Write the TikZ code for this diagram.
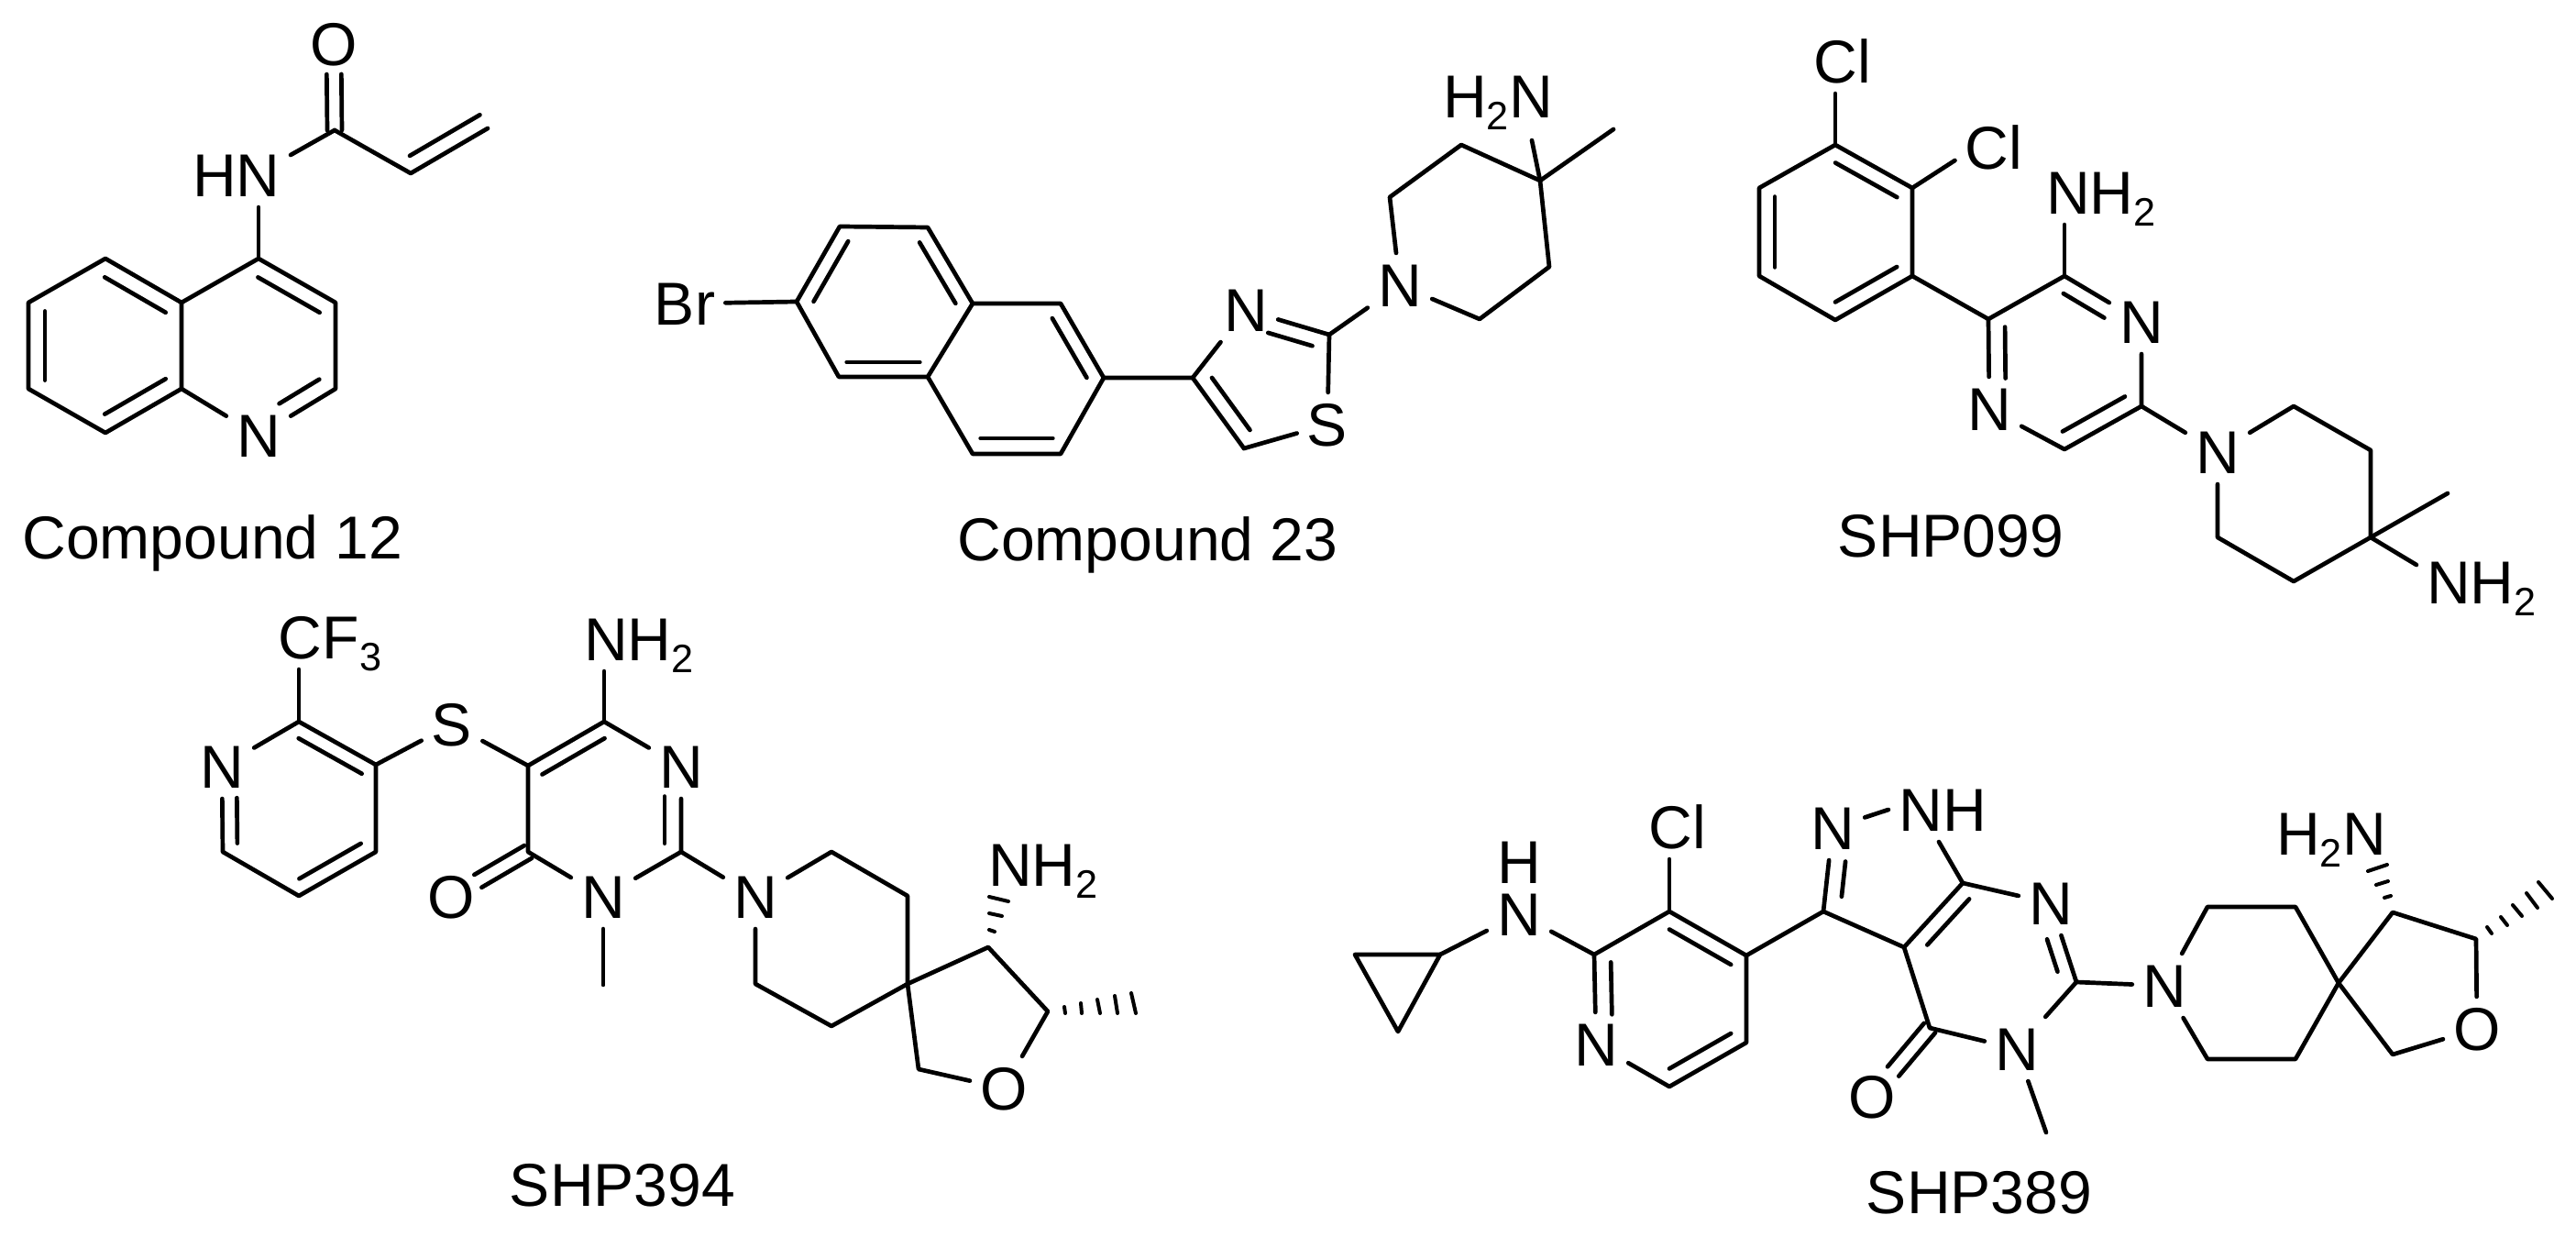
\documentclass[tikz,border=0pt]{standalone}
\usepackage{fontspec}
\setmainfont{Liberation Sans}
\usetikzlibrary{calc}

\newcommand{\subd}[1]{\raisebox{-0.13cm}{\fontsize{12.3}{13}\selectfont #1}}
\newcommand{\innerbond}[5]{\draw ($(#1)!#4!(#2)!#3!90:(#2)$) -- ($(#2)!#5!(#1)!#3!-90:(#1)$);}
\newcommand{\twinbond}[3]{
\draw[shorten >=#3] ($(#1)!0.08cm!90:(#2)$) -- ($(#2)!0.08cm!-90:(#1)$);
\draw[shorten >=#3] ($(#1)!0.08cm!-90:(#2)$) -- ($(#2)!0.08cm!90:(#1)$);
}
\tikzset{
atom/.style={font=\fontsize{18.8}{22}\selectfont,inner sep=0.09cm,text height=0.475cm,text depth=0pt},
caption/.style={font=\fontsize{18.8}{22}\selectfont,inner sep=0pt,anchor=base},
hashbar/.style={line width=0.04cm}
}

\begin{document}
\begin{tikzpicture}[line width=0.047cm,line cap=round,line join=round]
\useasboundingbox (0,0) rectangle (28.10,-13.49);

\coordinate (a1) at (1.15,-2.82);
\coordinate (a2) at (0.31,-3.30);
\coordinate (a3) at (0.31,-4.24);
\coordinate (a4) at (1.15,-4.72);
\coordinate (a5) at (1.98,-4.24);
\coordinate (a6) at (1.98,-3.30);
\coordinate (a7) at (2.82,-2.82);
\coordinate (a8) at (3.66,-3.30);
\coordinate (a9) at (3.66,-4.24);
\coordinate (co12) at (3.65,-1.42);
\coordinate (v12a) at (4.48,-1.89);
\coordinate (v12b) at (5.32,-1.40);
\node[atom] (n12) at (2.82,-4.75) {N};
\node[atom] (hn12) at (2.58,-1.91) {HN};
\node[atom] (o12) at (3.64,-0.48) {O};
\node[caption] (cap12) at (2.32,-6.10) {Compound 12};
\draw (a1) -- (a2) -- (a3) -- (a4) -- (a5) -- (a6) -- cycle;
\draw (a6) -- (a7) -- (a8) -- (a9) -- (n12);
\draw (a5) -- (n12);
\draw (a7) -- (a7 |- hn12.south);
\draw (co12) -- ([yshift=0.22cm]hn12.east);
\draw (co12) -- (v12a) -- (v12b);
\twinbond{co12}{o12}{0.33cm}
\innerbond{v12a}{v12b}{0.17cm}{0.09}{0}
\innerbond{a2}{a3}{0.18cm}{0.1}{0.1}
\innerbond{a4}{a5}{0.18cm}{0.1}{0.1}
\innerbond{a6}{a1}{0.18cm}{0.1}{0.1}
\innerbond{a8}{a7}{0.18cm}{0.1}{0.1}
\innerbond{n12}{a9}{0.18cm}{0.38}{0.1}

\coordinate (b1) at (8.69,-3.29);
\coordinate (b2) at (9.16,-2.47);
\coordinate (b3) at (10.12,-2.48);
\coordinate (b4) at (10.61,-3.31);
\coordinate (b5) at (10.12,-4.11);
\coordinate (b6) at (9.15,-4.11);
\coordinate (b7) at (11.57,-3.31);
\coordinate (b8) at (12.04,-4.12);
\coordinate (b9) at (11.57,-4.95);
\coordinate (b10) at (10.61,-4.95);
\coordinate (t1) at (13.01,-4.12);
\coordinate (t2) at (14.50,-3.65);
\coordinate (t3) at (13.57,-4.89);
\coordinate (p1) at (15.16,-2.15);
\coordinate (p2) at (15.94,-1.58);
\coordinate (p3) at (16.80,-1.97);
\coordinate (p4) at (16.90,-2.91);
\coordinate (p5) at (16.14,-3.48);
\coordinate (m23) at (17.60,-1.41);
\node[atom] (br23) at (7.47,-3.31) {Br};
\node[atom] (n23a) at (13.59,-3.38) {N};
\node[atom] (s23) at (14.48,-4.63) {S};
\node[atom] (n23b) at (15.27,-3.11) {N};
\node[atom] (h2n23) at (16.34,-1.05) {H\subd{2}N};
\node[caption] (cap23) at (12.52,-6.12) {Compound 23};
\draw (b1) -- (b2) -- (b3) -- (b4) -- (b5) -- (b6) -- cycle;
\draw (b4) -- (b7) -- (b8) -- (b9) -- (b10) -- (b5);
\draw (b1) -- (br23);
\draw (b8) -- (t1) -- (n23a);
\draw (t2) -- (n23a);
\draw (t2) -- (s23);
\draw (t3) -- (s23);
\draw (t1) -- (t3);
\draw (t2) -- (n23b);
\draw (n23b) -- (p1) -- (p2) -- (p3) -- (p4) -- (p5) -- (n23b);
\draw (p3) -- (m23);
\draw (p3) -- ([shift={(0.37,-0.13)}]h2n23.south);
\innerbond{b2}{b1}{0.16cm}{0.1}{0.1}
\innerbond{b4}{b3}{0.16cm}{0.1}{0.1}
\innerbond{b6}{b5}{0.16cm}{0.09}{0.09}
\innerbond{b8}{b7}{0.16cm}{0.1}{0.1}
\innerbond{b10}{b9}{0.17cm}{0.09}{0.09}
\innerbond{t1}{t3}{0.17cm}{0.13}{0.13}
\innerbond{t2}{n23a}{0.17cm}{0.15}{0.32}

\coordinate (c1) at (20.02,-1.58);
\coordinate (c2) at (20.86,-2.05);
\coordinate (c3) at (20.86,-3.01);
\coordinate (c4) at (20.02,-3.49);
\coordinate (c5) at (19.19,-3.01);
\coordinate (c6) at (19.19,-2.05);
\coordinate (d1) at (21.69,-3.48);
\coordinate (d2) at (22.52,-3.01);
\coordinate (d3) at (23.36,-4.43);
\coordinate (d4) at (22.52,-4.90);
\coordinate (e1) at (25.02,-4.43);
\coordinate (e2) at (25.86,-4.91);
\coordinate (e3) at (25.86,-5.86);
\coordinate (e4) at (25.02,-6.34);
\coordinate (e5) at (24.19,-5.86);
\coordinate (m099) at (26.70,-5.38);
\node[atom] (cl099a) at (20.10,-0.67) {Cl};
\node[atom] (cl099b) at (21.75,-1.61) {Cl};
\node[atom] (nh2099a) at (22.92,-2.10) {NH\subd{2}};
\node[atom] (n099a) at (23.36,-3.51) {N};
\node[atom] (n099b) at (21.70,-4.46) {N};
\node[atom] (n099c) at (24.19,-4.93) {N};
\node[atom] (nh2099b) at (27.07,-6.35) {NH\subd{2}};
\node[caption] (cap099) at (21.28,-6.08) {SHP099};
\draw (c1) -- (c2) -- (c3) -- (c4) -- (c5) -- (c6) -- cycle;
\draw (c1) -- (c1 |- cl099a.south);
\draw (c2) -- ([yshift=-0.14cm]cl099b.west);
\draw (c3) -- (d1) -- (d2) -- (n099a) -- (d3) -- (d4) -- (n099b) -- (d1);
\draw (d2) -- (d2 |- nh2099a.south);
\draw (d3) -- (n099c) -- (e1) -- (e2) -- (e3) -- (e4) -- (e5) -- (n099c);
\draw (e3) -- (m099);
\draw (e3) -- ([yshift=0.19cm]nh2099b.west);
\innerbond{c2}{c1}{0.17cm}{0.1}{0.1}
\innerbond{c4}{c3}{0.17cm}{0.1}{0.1}
\innerbond{c6}{c5}{0.17cm}{0.1}{0.1}
\innerbond{n099a}{d2}{0.17cm}{0.38}{0.09}
\innerbond{d4}{d3}{0.18cm}{0.08}{0.11}
\innerbond{d1}{n099b}{0.18cm}{0.09}{0.34}

\coordinate (f1) at (3.26,-7.87);
\coordinate (f2) at (4.10,-8.34);
\coordinate (f3) at (4.10,-9.29);
\coordinate (f4) at (3.26,-9.77);
\coordinate (f5) at (2.43,-9.29);
\coordinate (g1) at (5.76,-8.35);
\coordinate (g2) at (6.59,-7.87);
\coordinate (g3) at (7.43,-9.29);
\coordinate (g4) at (5.76,-9.29);
\coordinate (m394a) at (6.58,-10.74);
\coordinate (h1) at (9.07,-9.29);
\coordinate (h2) at (9.90,-9.77);
\coordinate (h3) at (9.90,-10.73);
\coordinate (h4) at (9.07,-11.19);
\coordinate (h5) at (8.24,-10.73);
\coordinate (k1) at (10.78,-10.33);
\coordinate (k2) at (11.43,-11.03);
\coordinate (k3) at (10.02,-11.66);
\node[atom] (n394a) at (2.42,-8.36) {N};
\node[atom] (cf394) at (3.60,-6.95) {CF\subd{3}};
\node[atom] (s394) at (4.93,-7.90) {S};
\node[atom] (nh2394a) at (6.97,-6.97) {NH\subd{2}};
\node[atom] (n394b) at (7.43,-8.36) {N};
\node[atom] (n394c) at (6.58,-9.78) {N};
\node[atom] (o394a) at (4.92,-9.78) {O};
\node[atom] (n394d) at (8.24,-9.78) {N};
\node[atom] (nh2394b) at (11.38,-9.43) {NH\subd{2}};
\node[atom] (o394b) at (10.95,-11.87) {O};
\node[caption] (cap394) at (6.79,-13.16) {SHP394};
\draw (f1) -- (f2) -- (f3) -- (f4) -- (f5) -- (n394a) -- (f1);
\draw (f1) -- (f1 |- cf394.south);
\draw (f2) -- (s394) -- (g1);
\draw (g1) -- (g2) -- (n394b) -- (g3) -- (n394c) -- (g4) -- (g1);
\draw (g2) -- (g2 |- nh2394a.south);
\draw (n394c) -- (m394a);
\draw (g3) -- (n394d) -- (h1) -- (h2) -- (h3) -- (h4) -- (h5) -- (n394d);
\draw (h3) -- (k1) -- (k2) -- (o394b);
\draw (h3) -- (k3) -- (o394b);
\twinbond{g4}{o394a}{0.34cm}
\innerbond{f2}{f1}{0.16cm}{0.09}{0.09}
\innerbond{f4}{f3}{0.16cm}{0.1}{0.1}
\innerbond{n394a}{f5}{0.16cm}{0.37}{0.1}
\innerbond{g2}{g1}{0.16cm}{0.09}{0.09}
\innerbond{g3}{n394b}{0.18cm}{0.1}{0.35}
\draw[hashbar] (10.79,-10.14) -- (10.85,-10.16);
\draw[hashbar] (10.79,-9.96) -- (10.93,-9.99);
\draw[hashbar] (10.79,-9.78) -- (11.00,-9.83);
\draw[hashbar] (11.61,-10.98) -- (11.62,-11.05);
\draw[hashbar] (11.79,-10.94) -- (11.80,-11.05);
\draw[hashbar] (11.97,-10.90) -- (12.00,-11.05);
\draw[hashbar] (12.16,-10.86) -- (12.19,-11.05);
\draw[hashbar] (12.34,-10.83) -- (12.39,-11.05);

\coordinate (q1) at (15.71,-10.41);
\coordinate (q2) at (14.78,-10.41);
\coordinate (q3) at (15.25,-11.25);
\coordinate (m1) at (17.39,-10.41);
\coordinate (m2) at (18.21,-9.94);
\coordinate (m3) at (19.05,-10.42);
\coordinate (m4) at (19.05,-11.37);
\coordinate (m5) at (18.21,-11.85);
\coordinate (r1) at (19.89,-9.94);
\coordinate (r2) at (21.41,-9.63);
\coordinate (r3) at (20.77,-10.33);
\coordinate (s2) at (22.65,-10.71);
\coordinate (s3) at (21.05,-11.21);
\coordinate (m389) at (22.32,-12.35);
\coordinate (u1) at (24.08,-9.89);
\coordinate (u2) at (25.04,-9.89);
\coordinate (u3) at (25.51,-10.72);
\coordinate (u4) at (25.04,-11.55);
\coordinate (u5) at (24.08,-11.55);
\coordinate (v1) at (26.10,-9.95);
\coordinate (v2) at (27.01,-10.24);
\coordinate (v3) at (26.10,-11.50);
\node[atom] (nh389) at (16.57,-9.97) {N};
\node[atom,inner sep=0pt] (h389) at (16.57,-9.40) {H};
\node[atom] (n389a) at (17.41,-11.39) {N};
\node[atom] (cl389) at (18.30,-9.02) {Cl};
\node[atom] (n389b) at (19.99,-9.03) {N};
\node[atom] (nh389b) at (21.19,-8.83) {NH};
\node[atom] (n389c) at (22.37,-9.85) {N};
\node[atom] (n389d) at (22.00,-11.44) {N};
\node[atom] (o389a) at (20.42,-11.96) {O};
\node[atom] (n389e) at (23.61,-10.75) {N};
\node[atom] (o389b) at (27.02,-11.22) {O};
\node[atom] (h2n389) at (25.43,-9.09) {H\subd{2}N};
\node[caption] (cap389) at (21.59,-13.24) {SHP389};
\draw (q1) -- (q2) -- (q3) -- cycle;
\draw (q1) -- (nh389);
\draw (nh389) -- (m1);
\draw (m1) -- (m2) -- (m3) -- (m4) -- (m5) -- (n389a) -- (m1);
\draw (m2) -- (m2 |- cl389.south);
\draw (m3) -- (r1) -- (r3) -- (r2);
\draw (r1) -- (n389b);
\draw (n389b) -- (nh389b.west);
\draw (r2) -- ([xshift=-0.04cm]nh389b.south);
\draw (r2) -- (n389c) -- (s2) -- (n389d) -- (s3) -- (r3);
\draw (n389d) -- (m389);
\draw (s2) -- (n389e) -- (u1) -- (u2) -- (u3) -- (u4) -- (u5) -- (n389e);
\draw (u3) -- (v1) -- (v2) -- (o389b);
\draw (u3) -- (v3) -- (o389b);
\twinbond{s3}{o389a}{0.36cm}
\innerbond{m3}{m2}{0.17cm}{0.1}{0.1}
\innerbond{m5}{m4}{0.17cm}{0.1}{0.1}
\innerbond{m1}{n389a}{0.18cm}{0.09}{0.33}
\innerbond{n389b}{r1}{0.18cm}{0.38}{0.2}
\innerbond{r2}{r3}{0.17cm}{0.085}{0.2}
\innerbond{s2}{n389c}{0.16cm}{0.19}{0.4}
\draw[hashbar] (26.01,-9.79) -- (26.08,-9.77);
\draw[hashbar] (25.92,-9.65) -- (26.05,-9.61);
\draw[hashbar] (25.83,-9.50) -- (26.04,-9.43);
\draw[hashbar] (27.13,-10.11) -- (27.18,-10.18);
\draw[hashbar] (27.28,-10.00) -- (27.35,-10.09);
\draw[hashbar] (27.41,-9.87) -- (27.51,-9.99);
\draw[hashbar] (27.56,-9.74) -- (27.68,-9.90);
\draw[hashbar] (27.69,-9.62) -- (27.84,-9.80);
\end{tikzpicture}
\end{document}
